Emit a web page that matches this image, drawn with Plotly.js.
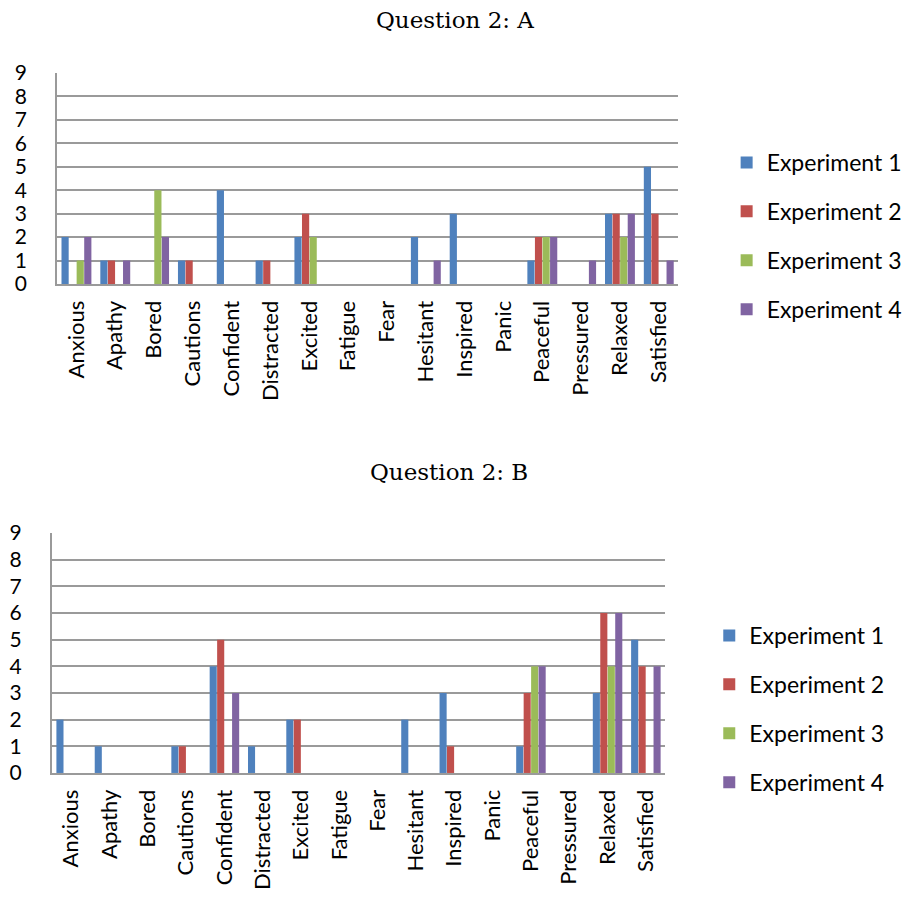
<!DOCTYPE html>
<html>
<head>
<meta charset="utf-8">
<script src="https://cdn.plot.ly/plotly-3.0.1.min.js"></script>
<style>html,body{margin:0;padding:0;background:#fff;}#chart{width:914px;height:903px;}</style>
</head>
<body>
<div id="chart"></div>
<script>
const categories = ["Anxious","Apathy","Bored","Cautions","Confident","Distracted","Excited","Fatigue","Fear","Hesitant","Inspired","Panic","Peaceful","Pressured","Relaxed","Satisfied"];
const seriesNames = ["Experiment 1","Experiment 2","Experiment 3","Experiment 4"];
const colors = ["#4F81BD","#C0504D","#9BBB59","#8064A2"];
const yTicks = [0,1,2,3,4,5,6,7,8,9];

const qA_exp1 = [2,1,0,1,4,1,2,0,0,2,3,0,1,0,3,5];
const qA_exp2 = [0,1,0,1,0,1,3,0,0,0,0,0,2,0,3,3];
const qA_exp3 = [1,0,4,0,0,0,2,0,0,0,0,0,2,0,2,0];
const qA_exp4 = [2,1,2,0,0,0,0,0,0,1,0,0,2,1,3,1];

const qB_exp1 = [2,1,0,1,4,1,2,0,0,2,3,0,1,0,3,5];
const qB_exp2 = [0,0,0,1,5,0,2,0,0,0,1,0,3,0,6,4];
const qB_exp3 = [0,0,0,0,0,0,0,0,0,0,0,0,4,0,4,0];
const qB_exp4 = [0,0,0,0,3,0,0,0,0,0,0,0,4,0,6,4];

const titleA = "Question 2: A";
const titleB = "Question 2: B";

const dataA = [qA_exp1,qA_exp2,qA_exp3,qA_exp4];
const dataB = [qB_exp1,qB_exp2,qB_exp3,qB_exp4];

const traces = [];
dataA.forEach((vals,i)=>{
  traces.push({type:'bar', x:categories, y:vals, name:seriesNames[i], xaxis:'x', yaxis:'y',
    marker:{color:colors[i], line:{width:0}}, legend:'legend', legendgroup:'a'+i, showlegend:true});
});
dataB.forEach((vals,i)=>{
  traces.push({type:'bar', x:categories, y:vals, name:seriesNames[i], xaxis:'x2', yaxis:'y2',
    marker:{color:colors[i], line:{width:0}}, legend:'legend2', legendgroup:'b'+i, showlegend:true});
});

const fam = 'Lato, "Liberation Sans", sans-serif';
const yTickFont = {family:fam, size:21, color:'#000'};
const xTickFont = {family:fam, size:22, color:'#000'};
const yax = (dom)=>({domain:dom, range:[0,9], tickvals:yTicks, showgrid:true, gridcolor:'#9a9a9a', gridwidth:2,
  showline:true, linecolor:'#9a9a9a', linewidth:2, zeroline:false, ticks:'', ticklabelstandoff:24, tickfont:yTickFont, fixedrange:true});
const xax = (dom, anchor)=>({domain:dom, anchor:anchor, type:'category', tickangle:-90, showline:true, linecolor:'#9a9a9a', linewidth:2,
  ticks:'', tickfont:xTickFont, ticklabelstandoff:6, fixedrange:true});

const legendBase = {font:{family:fam, size:23, color:'#000'}, traceorder:'grouped', tracegroupgap:16,
  xanchor:'left', yanchor:'middle', bgcolor:'rgba(0,0,0,0)', itemwidth:30};

const layout = {
  width:914, height:903, margin:{l:0,r:0,t:0,b:0}, paper_bgcolor:'#fff', plot_bgcolor:'#fff',
  barmode:'group', bargap:0.22, bargroupgap:0.05,
  xaxis: xax([0.0624,0.742],'y'),
  yaxis: Object.assign(yax([0.6855,0.9192]),{anchor:'x'}),
  xaxis2: xax([0.0569,0.7276],'y2'),
  yaxis2: Object.assign(yax([0.144,0.4097]),{anchor:'x2'}),
  legend: Object.assign({x:0.795, y:1-236/903}, legendBase),
  legend2: Object.assign({x:0.776, y:1-709/903}, legendBase),
  annotations:[
    {text:titleA, xref:'paper', yref:'paper', x:455/914, y:1-20/903, showarrow:false, xanchor:'center', yanchor:'middle',
      font:{family:'"DejaVu Serif", "Liberation Serif", serif', size:23, color:'#000'}},
    {text:titleB, xref:'paper', yref:'paper', x:449/914, y:1-472/903, showarrow:false, xanchor:'center', yanchor:'middle',
      font:{family:'"DejaVu Serif", "Liberation Serif", serif', size:23, color:'#000'}}
  ]
};
Plotly.newPlot('chart', traces, layout, {displayModeBar:false, staticPlot:true});
</script>
</body>
</html>
